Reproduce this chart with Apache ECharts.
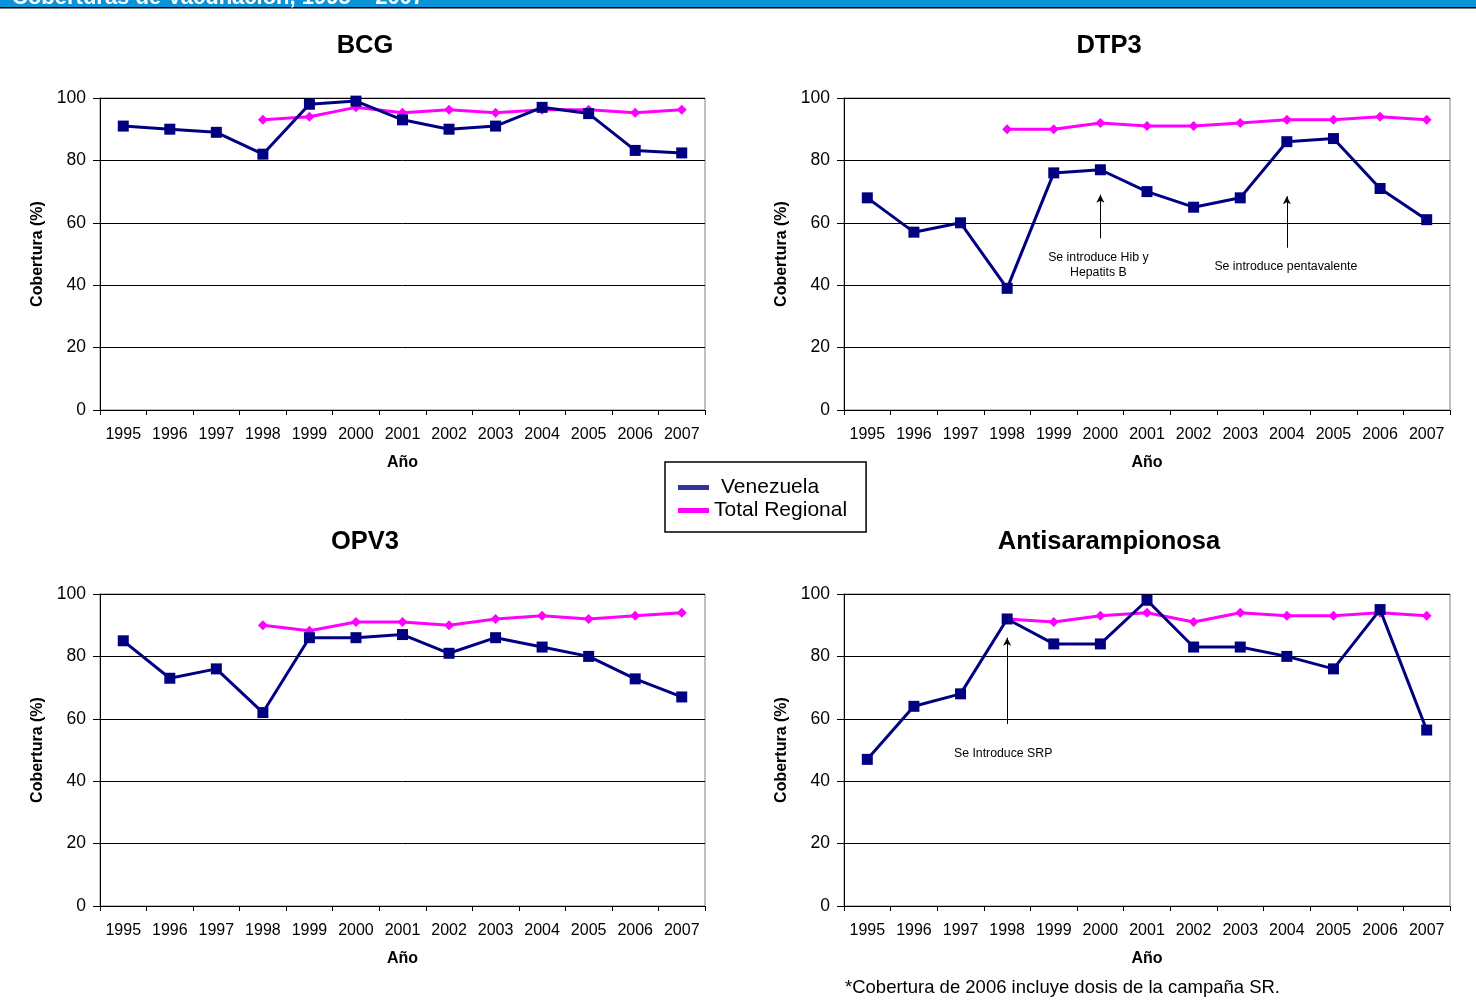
<!DOCTYPE html>
<html>
<head>
<meta charset="utf-8">
<script src="https://cdn.jsdelivr.net/npm/echarts@6/dist/echarts.min.js"></script>
<style>
html,body{margin:0;padding:0;background:#fff;}
#main{width:1476px;height:1000px;}
</style>
</head>
<body>
<div id="main"></div>
<script>
// ---- data ----
var years = ['1995','1996','1997','1998','1999','2000','2001','2002','2003','2004','2005','2006','2007'];
var yTicks = [0, 20, 40, 60, 80, 100];
var chartTitles = ['BCG', 'DTP3', 'OPV3', 'Antisarampionosa'];
var seriesNames = ['Venezuela', 'Total Regional'];

var bcgVen = [91, 90, 89, 82, 98, 99, 93, 90, 91, 97, 95, 83.2, 82.4];
var bcgReg = [null, null, null, 93, 94, 97, 95.3, 96.2, 95.3, 96.2, 96.2, 95.3, 96.2];
var dtpVen = [68, 57, 60, 39, 76, 77, 70, 65, 68, 86, 87, 71, 61];
var dtpReg = [null, null, null, 90, 90, 92, 91, 91, 92, 93, 93, 94, 93];
var opvVen = [85, 73, 76, 62, 86, 86, 87, 81, 86, 83, 80, 72.8, 67];
var opvReg = [null, null, null, 90, 88.2, 91, 91, 90, 92, 93, 92, 93, 94];
var srpVen = [47, 64, 68, 92, 84, 84, 98, 83, 83, 80, 76, 95, 56.4];
var srpReg = [null, null, null, 92, 91, 93, 94, 91, 94, 93, 93, 94, 93];

var annotDtp = [
  {year: '2000', from: 55, to: 69, textY: 46.5, text: 'Se introduce Hib y\nHepatits B', dx: -2},
  {year: '2004', from: 52, to: 68.5, textY: 46, text: 'Se introduce pentavalente', dx: -1}
];
var annotSrp = [
  {year: '1998', from: 58.3, to: 86, textY: 48.8, text: 'Se Introduce SRP', dx: -4}
];
var footnote = '*Cobertura de 2006 incluye dosis de la campaña SR.';
var bannerText = 'Coberturas de Vacunación, 1995 – 2007';

// ---- layout ----
var FONT = '"Liberation Sans", Arial, Helvetica, sans-serif';
var VEN_COLOR = '#000080';
var REG_COLOR = '#FF00FF';
var grids = [
  {left: 100, top: 98, width: 605, height: 312},
  {left: 844, top: 98, width: 606, height: 312},
  {left: 100, top: 594, width: 605, height: 312},
  {left: 844, top: 594, width: 606, height: 312}
];
var titleCenters = [[365, 33], [1109, 33], [365, 529], [1109, 529]];

var chart = echarts.init(document.getElementById('main'), null, {renderer: 'canvas'});

var xAxes = [], yAxes = [], gridOpts = [], titles = [];
grids.forEach(function (g, i) {
  gridOpts.push({left: g.left, top: g.top, width: g.width, height: g.height, show: true,
    borderColor: '#808080', borderWidth: 1, backgroundColor: 'transparent', containLabel: false});
  xAxes.push({
    type: 'category', gridIndex: i, data: years, boundaryGap: true,
    name: 'Año', nameLocation: 'middle', nameGap: 45,
    nameTextStyle: {fontFamily: FONT, fontSize: 16, fontWeight: 'bold', color: '#000'},
    axisLine: {show: true, lineStyle: {color: '#000', width: 1}},
    axisTick: {show: true, inside: false, length: 5, alignWithLabel: false, lineStyle: {color: '#000'}},
    axisLabel: {fontFamily: FONT, fontSize: 16, color: '#000', margin: 17, interval: 0},
    splitLine: {show: false}
  });
  yAxes.push({
    type: 'value', gridIndex: i, min: 0, max: 100, interval: 20,
    name: 'Cobertura (%)', nameLocation: 'middle', nameGap: 54, nameRotate: 90,
    nameTextStyle: {fontFamily: FONT, fontSize: 16, fontWeight: 'bold', color: '#000'},
    axisLine: {show: true, lineStyle: {color: '#000', width: 1}},
    axisTick: {show: true, inside: false, length: 7, lineStyle: {color: '#000'}},
    axisLabel: {fontFamily: FONT, fontSize: 17.5, color: '#000', margin: 14,
      customValues: yTicks},
    splitLine: {show: true, lineStyle: {color: '#000', width: 1}}
  });
  titles.push({
    text: chartTitles[i], left: titleCenters[i][0], top: titleCenters[i][1], textAlign: 'center',
    padding: 0,
    textStyle: {fontFamily: FONT, fontSize: 25.5, fontWeight: 'bold', color: '#000'}
  });
});

function makeSeries(name, data, idx, isVen, extra) {
  var s = {
    name: name, type: 'line', xAxisIndex: idx, yAxisIndex: idx, data: data,
    symbol: isVen ? 'rect' : 'diamond',
    symbolSize: isVen ? 11 : 10,
    showAllSymbol: true,
    connectNulls: false,
    z: isVen ? 4 : 3,
    lineStyle: {color: isVen ? VEN_COLOR : REG_COLOR, width: 3},
    itemStyle: {color: isVen ? VEN_COLOR : REG_COLOR, borderWidth: 0},
    emphasis: {disabled: true},
    animation: false
  };
  if (extra) { for (var k in extra) s[k] = extra[k]; }
  return s;
}

function annotExtras(list) {
  return {
    markLine: {
      silent: true, animation: false,
      symbol: ['none', 'arrow'], symbolSize: [6, 8],
      lineStyle: {color: '#000', width: 1, type: 'solid'},
      label: {show: false},
      data: list.map(function (a) {
        return [{coord: [a.year, a.from]}, {coord: [a.year, a.to]}];
      })
    },
    markPoint: {
      silent: true, animation: false,
      symbol: 'circle', symbolSize: 1,
      itemStyle: {color: 'rgba(0,0,0,0)'},
      label: {show: true, position: 'inside', fontFamily: FONT, fontSize: 12.3, color: '#000',
        lineHeight: 15, formatter: function (p) { return p.data.text; }},
      data: list.map(function (a) {
        return {coord: [a.year, a.textY], text: a.text, label: {offset: [a.dx, 0]}};
      })
    }
  };
}

var series = [
  makeSeries(seriesNames[1], bcgReg, 0, false),
  makeSeries(seriesNames[0], bcgVen, 0, true),
  makeSeries(seriesNames[1], dtpReg, 1, false),
  makeSeries(seriesNames[0], dtpVen, 1, true, annotExtras(annotDtp)),
  makeSeries(seriesNames[1], opvReg, 2, false),
  makeSeries(seriesNames[0], opvVen, 2, true),
  makeSeries(seriesNames[1], srpReg, 3, false),
  makeSeries(seriesNames[0], srpVen, 3, true, annotExtras(annotSrp))
];

var option = {
  backgroundColor: '#fff',
  animation: false,
  title: titles,
  grid: gridOpts,
  xAxis: xAxes,
  yAxis: yAxes,
  legend: {
    show: true, orient: 'vertical', left: 665, top: 462,
    data: [
      {name: seriesNames[0], icon: 'rect', itemStyle: {color: '#333399'},
        textStyle: {padding: [0, 0, 0, 7]}},
      {name: seriesNames[1], icon: 'rect', itemStyle: {color: REG_COLOR}}
    ],
    itemWidth: 31, itemHeight: 5, itemGap: 2,
    padding: [15, 19, 11, 13],
    borderColor: '#000', borderWidth: 1.5, backgroundColor: '#fff',
    selectedMode: false,
    textStyle: {fontFamily: FONT, fontSize: 21, color: '#000'}
  },
  graphic: [
    {type: 'rect', left: 0, top: 0, shape: {width: 1476, height: 7}, style: {fill: '#0A93D6'}, z: 10},
    {type: 'rect', left: 0, top: 7, shape: {width: 1476, height: 1.5}, style: {fill: '#000'}, z: 10},
    {type: 'text', left: 12, top: -13, z: 11,
      style: {text: bannerText, fill: '#fff', font: 'bold 22px ' + FONT}},
    {type: 'text', left: 845, top: 978, z: 11,
      style: {text: footnote, fill: '#000', font: '18.5px ' + FONT}}
  ],
  series: series
};
chart.setOption(option);
</script>
</body>
</html>
